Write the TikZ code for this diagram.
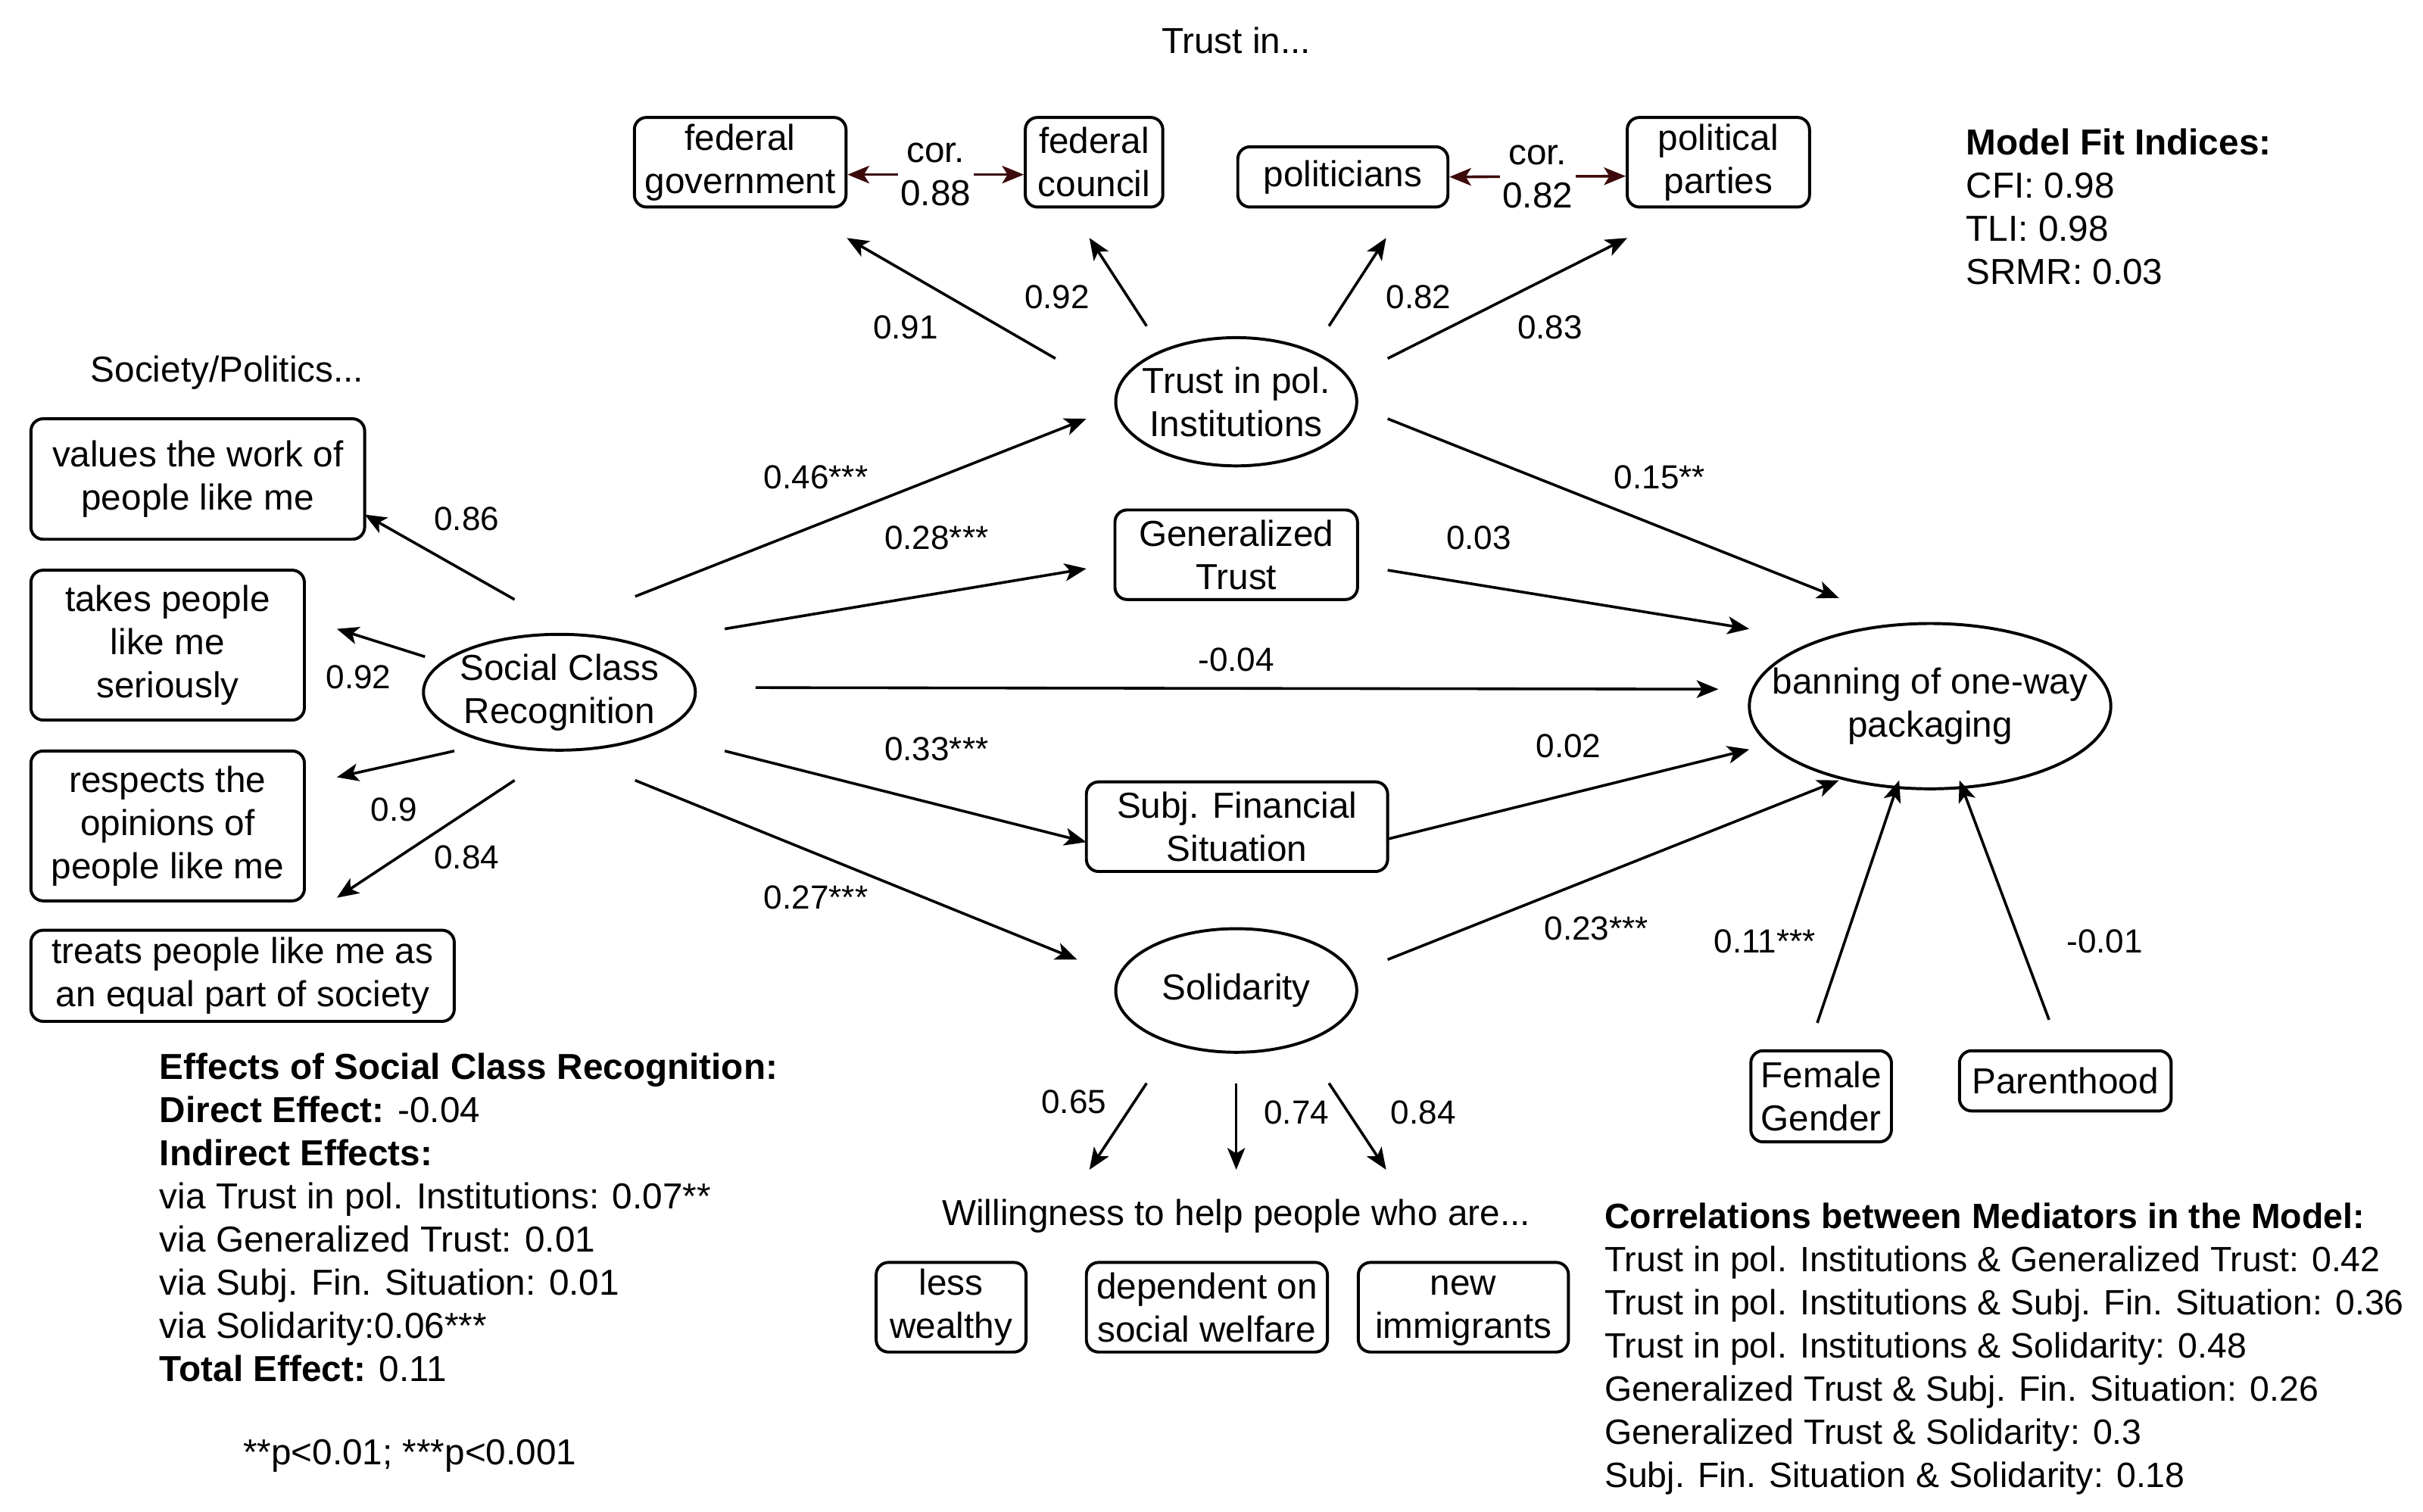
\documentclass[tikz,border=0pt]{standalone}
\usepackage{fontspec}
\setmainfont{Liberation Sans}
\usetikzlibrary{arrows.meta,shapes.geometric}
\definecolor{corcol}{HTML}{3C0A0A}
\newcommand{\diafont}{\fontsize{13.3}{15.9}\selectfont}
\newcommand{\corrfont}{\fontsize{12.95}{15.9}\selectfont}
\newcommand{\lblfont}{\fontsize{12.3}{14}\selectfont}

\begin{document}
\begin{tikzpicture}[x=0.02cm, y=-0.02cm,
  every node/.style={font=\diafont},
  box/.style={draw, line width=1.1pt, rounded corners=4.5pt, align=center, inner sep=2pt},
  ell/.style={draw, ellipse, line width=1.1pt, align=center, inner xsep=-12pt, inner ysep=0pt},
  arr/.style={line width=1pt, -{Stealth[length=8pt, width=6.5pt, inset=2pt]}},
  cor/.style={line width=1pt, corcol, {Stealth[length=8pt, width=6.5pt, inset=2pt]}-{Stealth[length=8pt, width=6.5pt, inset=2pt]}},
  corlbl/.style={fill=white, text=black, inner xsep=1pt, inner ysep=0pt, align=center},
  lbl/.style={font=\lblfont, inner sep=0pt},
  plain/.style={inner sep=0pt},
  block/.style={align=left, inner sep=0pt, anchor=north west}]

  % Area del disegno
  \useasboundingbox (0,0) rectangle (1568,978.5);

  % Indicatori della fiducia
  \node[plain] (trustin) at (800,26) {Trust in...};
  \node[box, minimum width=2.74cm, minimum height=1.16cm] (fedgov) at (479,105) {federal\\government};
  \node[box, minimum width=1.78cm, minimum height=1.16cm] (fedcouncil) at (708,105) {federal\\council};
  \node[box, minimum width=2.72cm, minimum height=0.78cm] (politicians) at (869,114.5) {politicians};
  \node[box, minimum width=2.36cm, minimum height=1.16cm] (parties) at (1112,105) {political\\parties};

  % Correlazioni tra indicatori
  \draw[cor] ([shift={(0,8)}]fedgov.east) -- node[corlbl] (cor1) {cor.\\0.88} ([shift={(0,8)}]fedcouncil.west);
  \draw[cor] (politicians.east) -- node[corlbl] (cor2) {cor.\\0.82} ([shift={(0,9)}]parties.west);

  % Indici di adattamento
  \node[block] (fit) at (1272,83) {\textbf{Model Fit Indices:}\\CFI: 0.98\\TLI: 0.98\\SRMR: 0.03};

  % Variabili latenti e mediatori
  \node[ell, minimum width=3.12cm, minimum height=1.66cm] (trust) at (800,260) {Trust in pol.\\Institutions};
  \node[box, minimum width=3.14cm, minimum height=1.16cm] (gentrust) at (800,359) {Generalized\\Trust};
  \node[box, minimum width=3.9cm, minimum height=1.16cm] (subjfin) at (800.5,535) {Subj. Financial\\Situation};
  \node[ell, minimum width=3.12cm, minimum height=1.6cm] (solid) at (800,641) {Solidarity};
  \node[ell, minimum width=3.52cm, minimum height=1.5cm] (scr) at (362,448) {Social Class\\Recognition};
  \node[ell, minimum width=4.68cm, minimum height=2.14cm] (ban) at (1249,457) {banning of one-way\\packaging};

  % Indicatori del riconoscimento
  \node[plain] (society) at (147,241) {Society/Politics...};
  \node[box, minimum width=4.32cm, minimum height=1.56cm] (values) at (128,310) {values the work of\\people like me};
  \node[box, minimum width=3.54cm, minimum height=1.94cm] (takes) at (108.5,417.5) {takes people\\like me\\seriously};
  \node[box, minimum width=3.54cm, minimum height=1.94cm] (respects) at (108.5,534.5) {respects the\\opinions of\\people like me};
  \node[box, minimum width=5.48cm, minimum height=1.18cm] (treats) at (157,631.5) {treats people like me as\\an equal part of society};

  % Covariate
  \node[box, minimum width=1.82cm, minimum height=1.18cm] (female) at (1178.5,709.5) {Female\\Gender};
  \node[box, minimum width=2.74cm, minimum height=0.78cm] (parent) at (1336.5,699.5) {Parenthood};

  % Indicatori della solidarieta
  \node[plain] (willing) at (800,787) {Willingness to help people who are...};
  \node[box, minimum width=1.94cm, minimum height=1.16cm] (wealthy) at (615.5,846) {less\\wealthy};
  \node[box, minimum width=3.12cm, minimum height=1.16cm] (welfare) at (781,846) {dependent on\\social welfare};
  \node[box, minimum width=2.72cm, minimum height=1.16cm] (immigr) at (947,846) {\vphantom{l}new\\immigrants};

  % Frecce della fiducia
  \draw[arr] ([shift={(-117,-28)}]trust.center) -- ([shift={(69,49)}]fedgov.center);
  \draw[arr] ([shift={(-58,-49)}]trust.center) -- ([shift={(-3,49)}]fedcouncil.center);
  \draw[arr] ([shift={(60,-49)}]trust.center) -- ([shift={(28,39.5)}]politicians.center);
  \draw[arr] ([shift={(98,-28)}]trust.center) -- ([shift={(-59,49)}]parties.center);

  % Frecce del riconoscimento
  \draw[arr] ([shift={(-29,-60)}]scr.center) -- ([shift={(108,23)}]values.center);
  \draw[arr] ([shift={(-87,-23)}]scr.center) -- ([shift={(109.5,-10.5)}]takes.center);
  \draw[arr] ([shift={(-68,38)}]scr.center) -- ([shift={(109.5,-31.5)}]respects.center);
  \draw[arr] ([shift={(-29,57)}]scr.center) -- ([shift={(61,-50.5)}]treats.center);

  % Frecce verso i mediatori
  \draw[arr] ([shift={(49,-62)}]scr.center) -- ([shift={(-97,11)}]trust.center);
  \draw[arr] ([shift={(107,-41)}]scr.center) -- ([shift={(-97,9)}]gentrust.center);
  \draw[arr] ([shift={(127,-3)}]scr.center) -- ([shift={(-137,-11)}]ban.center);
  \draw[arr] ([shift={(107,38)}]scr.center) -- ([shift={(-97.5,10)}]subjfin.center);
  \draw[arr] ([shift={(49,57)}]scr.center) -- ([shift={(-103,-20)}]solid.center);

  % Frecce verso la variabile dipendente
  \draw[arr] ([shift={(98,11)}]trust.center) -- ([shift={(-59,-70)}]ban.center);
  \draw[arr] ([shift={(98,10)}]gentrust.center) -- ([shift={(-117,-50)}]ban.center);
  \draw[arr] ([shift={(97.5,8)}]subjfin.center) -- ([shift={(-117,28)}]ban.center);
  \draw[arr] ([shift={(98,-20)}]solid.center) -- ([shift={(-59,48)}]ban.center);
  \draw[arr] ([shift={(-2.5,-47.5)}]female.center) -- ([shift={(-20,48)}]ban.center);
  \draw[arr] ([shift={(-10.5,-39.5)}]parent.center) -- ([shift={(19,48)}]ban.center);

  % Frecce della solidarieta
  \draw[arr] ([shift={(-58,60)}]solid.center) -- ([shift={(-95,-30)}]willing.center);
  \draw[arr] ([shift={(0,60)}]solid.center) -- ([shift={(0,-30)}]willing.center);
  \draw[arr] ([shift={(60,60)}]solid.center) -- ([shift={(97,-30)}]willing.center);

  % Etichette
  \node[lbl] (lfedgov) at (586,212) {0.91};
  \node[lbl] (lfedcouncil) at (684,192) {0.92};
  \node[lbl] (lpoliticians) at (918,192) {0.82};
  \node[lbl] (lparties) at (1003,212) {0.83};
  \node[lbl] (lvalues) at (302,336) {0.86};
  \node[lbl] (ltakes) at (232,438) {0.92};
  \node[lbl] (lrespects) at (255,524) {0.9};
  \node[lbl] (ltreats) at (302,555) {0.84};
  \node[lbl] (lscrtrust) at (528,309) {0.46***};
  \node[lbl] (lscrgen) at (606,348) {0.28***};
  \node[lbl] (ldirect) at (800,427) {-0.04};
  \node[lbl] (lscrsubj) at (606,485) {0.33***};
  \node[lbl] (lscrsolid) at (528,581) {0.27***};
  \node[lbl] (ltrustban) at (1074,309) {0.15**};
  \node[lbl] (lgenban) at (957,348) {0.03};
  \node[lbl] (lsubjban) at (1015,483) {0.02};
  \node[lbl] (lsolidban) at (1033,601) {0.23***};
  \node[lbl] (lfemale) at (1142,609) {0.11***};
  \node[lbl] (lparent) at (1362,609) {-0.01};
  \node[lbl] (lwealthy) at (695,713) {0.65};
  \node[lbl] (lwelfare) at (839,720) {0.74};
  \node[lbl] (limmigr) at (921,720) {0.84};

  % Riquadri di testo
  \node[block] (effects) at (103,681) {\textbf{Effects of Social Class Recognition:}\\
    \textbf{Direct Effect:} -0.04\\
    \textbf{Indirect Effects:}\\
    via Trust in pol. Institutions: 0.07**\\
    via Generalized Trust: 0.01\\
    via Subj. Fin. Situation: 0.01\\
    via Solidarity:0.06***\\
    \textbf{Total Effect:} 0.11};
  \node[plain, anchor=west] (pnote) at (157,942) {**p<0.01; ***p<0.001};
  \node[block, font=\corrfont] (corr) at (1038,778) {\textbf{Correlations between Mediators in the Model:}\\
    Trust in pol. Institutions \& Generalized Trust: 0.42\\
    Trust in pol. Institutions \& Subj. Fin. Situation: 0.36\\
    Trust in pol. Institutions \& Solidarity: 0.48\\
    Generalized Trust \& Subj. Fin. Situation: 0.26\\
    Generalized Trust \& Solidarity: 0.3\\
    Subj. Fin. Situation \& Solidarity: 0.18};

\end{tikzpicture}
\end{document}
